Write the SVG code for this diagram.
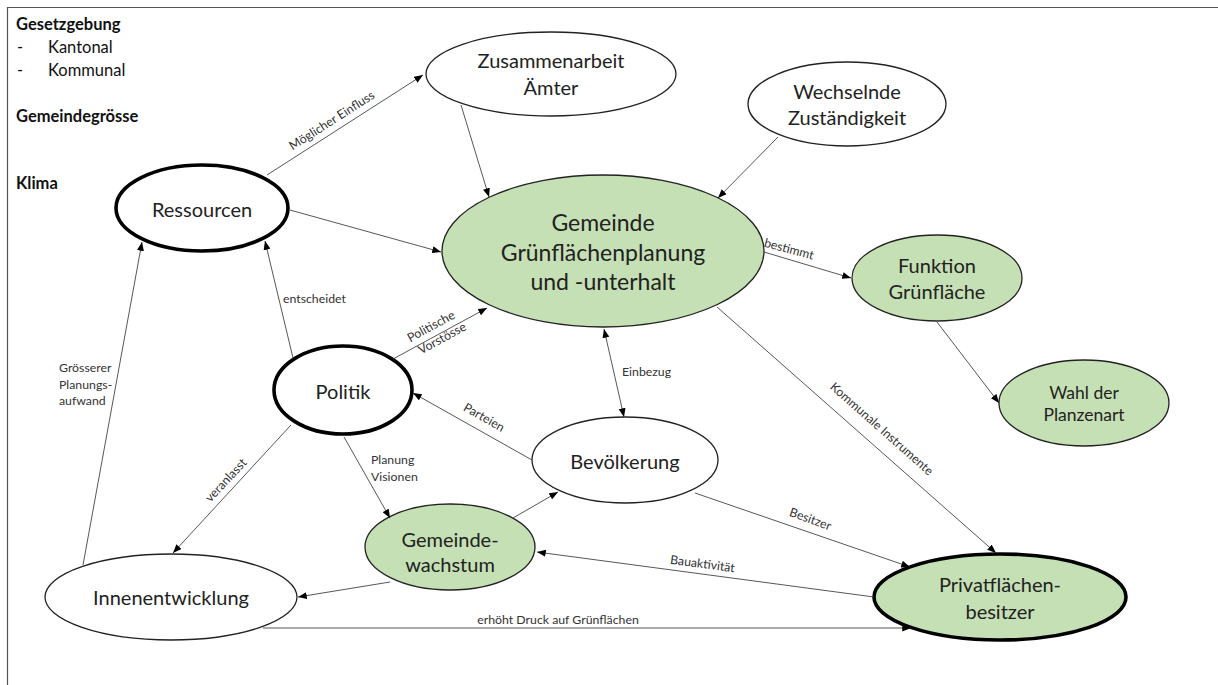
<svg xmlns="http://www.w3.org/2000/svg" width="1218" height="685" viewBox="0 0 1218 685">
  <defs>
    <marker id="arrow" viewBox="0 0 10 8" markerWidth="9" markerHeight="7" refX="10" refY="4" orient="auto-start-reverse" markerUnits="userSpaceOnUse">
      <path d="M0,0 L10,4 L0,8 z" fill="#000"/>
    </marker>
    <style>
      .frame { fill: none; stroke: #555; stroke-width: 1.2; }
      .node { fill: #fff; stroke: #222; stroke-width: 1.3; }
      .green { fill: #C5E0B4; }
      .thick { stroke: #000; stroke-width: 3.6; }
      .lbl { font-family: Lato, "Noto Sans", sans-serif; font-size: 20px; fill: #222; text-anchor: middle; }
      .big { font-size: 23px; }
      .small { font-size: 17.5px; }
      .edge { fill: none; stroke: #444; stroke-width: 0.9; }
      .arr { marker-end: url(#arrow); }
      .elbl { font-family: Lato, "Noto Sans", sans-serif; font-size: 12.3px; fill: #333; }
      .side { font-family: Lato, "Noto Sans", sans-serif; font-size: 16.5px; fill: #111; }
      .b { font-weight: bold; }
    </style>
  </defs>

  <rect width="1218" height="685" fill="#fff"/>
  <path class="frame" d="M7.5,685 V7.5 H1218"/>

  <!-- context factors -->
  <g id="context">
    <text class="side b" x="16" y="30">Gesetzgebung</text>
    <text class="side" x="17" y="53">-</text>
    <text class="side" x="48" y="53">Kantonal</text>
    <text class="side" x="17" y="76">-</text>
    <text class="side" x="48" y="76">Kommunal</text>
    <text class="side b" x="16" y="122">Gemeindegrösse</text>
    <text class="side b" x="16" y="189">Klima</text>
  </g>

  <!-- nodes -->
  <g id="ressourcen">
    <ellipse class="node thick" cx="202" cy="208" rx="86" ry="43"/>
    <text class="lbl" x="202" y="217">Ressourcen</text>
  </g>
  <g id="zusammenarbeit">
    <ellipse class="node" cx="551" cy="74" rx="125" ry="42"/>
    <text class="lbl" x="551" y="68">Zusammenarbeit</text>
    <text class="lbl" x="551" y="95">Ämter</text>
  </g>
  <g id="wechselnde">
    <ellipse class="node" cx="847" cy="104" rx="99" ry="42"/>
    <text class="lbl" x="847" y="99">Wechselnde</text>
    <text class="lbl" x="847" y="125">Zuständigkeit</text>
  </g>
  <g id="gemeinde">
    <ellipse class="node green" cx="603" cy="251" rx="161" ry="76"/>
    <text class="lbl big" x="603" y="231">Gemeinde</text>
    <text class="lbl big" x="603" y="261">Grünflächenplanung</text>
    <text class="lbl big" x="603" y="290">und -unterhalt</text>
  </g>
  <g id="funktion">
    <ellipse class="node green" cx="937" cy="278" rx="85" ry="43"/>
    <text class="lbl" x="937" y="273">Funktion</text>
    <text class="lbl" x="937" y="299">Grünfläche</text>
  </g>
  <g id="wahl">
    <ellipse class="node green" cx="1084" cy="403" rx="85" ry="43"/>
    <text class="lbl small" x="1084" y="399">Wahl der</text>
    <text class="lbl small" x="1084" y="421">Planzenart</text>
  </g>
  <g id="politik">
    <ellipse class="node thick" cx="343" cy="390" rx="69" ry="44"/>
    <text class="lbl" x="343" y="399">Politik</text>
  </g>
  <g id="bevoelkerung">
    <ellipse class="node" cx="625" cy="460" rx="93" ry="43"/>
    <text class="lbl" x="625" y="469">Bevölkerung</text>
  </g>
  <g id="gemeindewachstum">
    <ellipse class="node green" cx="450" cy="547" rx="85" ry="43"/>
    <text class="lbl" x="450" y="547">Gemeinde-</text>
    <text class="lbl" x="450" y="572">wachstum</text>
  </g>
  <g id="privatflaechen">
    <ellipse class="node green thick" cx="1000" cy="597" rx="126" ry="43"/>
    <text class="lbl" x="1000" y="592">Privatflächen-</text>
    <text class="lbl" x="1000" y="619">besitzer</text>
  </g>
  <g id="innenentwicklung">
    <ellipse class="node" cx="171" cy="597" rx="126" ry="43"/>
    <text class="lbl" x="171" y="605">Innenentwicklung</text>
  </g>

  <!-- connectors -->
  <g id="connectors">
    <line class="edge arr" x1="267" y1="175" x2="423" y2="75"/>
    <text class="elbl" text-anchor="middle" transform="translate(334,124) rotate(-32.7)">Möglicher Einfluss</text>

    <line class="edge arr" x1="461" y1="105" x2="489" y2="197"/>
    <line class="edge arr" x1="778" y1="137" x2="718" y2="198"/>
    <line class="edge arr" x1="290" y1="210" x2="441" y2="252"/>

    <line class="edge arr" x1="764" y1="252" x2="851" y2="278"/>
    <text class="elbl" text-anchor="middle" transform="translate(788,253) rotate(15)">bestimmt</text>

    <line class="edge arr" x1="937" y1="322" x2="999" y2="403"/>

    <line class="edge arr" x1="717" y1="307" x2="996" y2="553"/>
    <text class="elbl" text-anchor="middle" transform="translate(879,432) rotate(41.5)">Kommunale Instrumente</text>

    <line class="edge arr" x1="695" y1="493" x2="910" y2="567"/>
    <text class="elbl" text-anchor="middle" transform="translate(809,523) rotate(20)">Besitzer</text>

    <line class="edge arr" x1="874" y1="597" x2="537" y2="552"/>
    <text class="elbl" text-anchor="middle" transform="translate(702,568) rotate(7.6)">Bauaktivität</text>

    <line class="edge arr" x1="513" y1="518" x2="558" y2="492"/>

    <line class="edge arr" x1="263" y1="628" x2="911" y2="628"/>
    <text class="elbl" text-anchor="middle" x="558" y="624">erhöht Druck auf Grünflächen</text>

    <line class="edge arr" x1="83" y1="565" x2="142" y2="242"/>
    <text class="elbl" x="59" y="372">Grösserer</text>
    <text class="elbl" x="59" y="389">Planungs-</text>
    <text class="elbl" x="59" y="405">aufwand</text>

    <line class="edge arr" x1="293" y1="358" x2="265" y2="241"/>
    <text class="elbl" x="283" y="303">entscheidet</text>

    <line class="edge arr" x1="291" y1="425" x2="173" y2="553"/>
    <text class="elbl" text-anchor="middle" transform="translate(229,483) rotate(-47)">veranlasst</text>

    <line class="edge arr" x1="344" y1="437" x2="390" y2="518"/>
    <text class="elbl" x="371" y="464">Planung</text>
    <text class="elbl" x="371" y="481">Visionen</text>

    <line class="edge arr" x1="390" y1="582" x2="298" y2="597"/>

    <line class="edge arr" x1="393" y1="359" x2="487" y2="308"/>
    <text class="elbl" text-anchor="middle" transform="translate(433,330) rotate(-28.5)">Politische</text>
    <text class="elbl" text-anchor="middle" transform="translate(444,342) rotate(-28.5)">Vorstösse</text>

    <line class="edge arr" x1="604" y1="329" x2="624" y2="417" marker-start="url(#arrow)"/>
    <text class="elbl" x="622" y="376">Einbezug</text>

    <line class="edge arr" x1="532" y1="460" x2="413" y2="393"/>
    <text class="elbl" text-anchor="middle" transform="translate(482,421) rotate(29.4)">Parteien</text>
  </g>
</svg>
